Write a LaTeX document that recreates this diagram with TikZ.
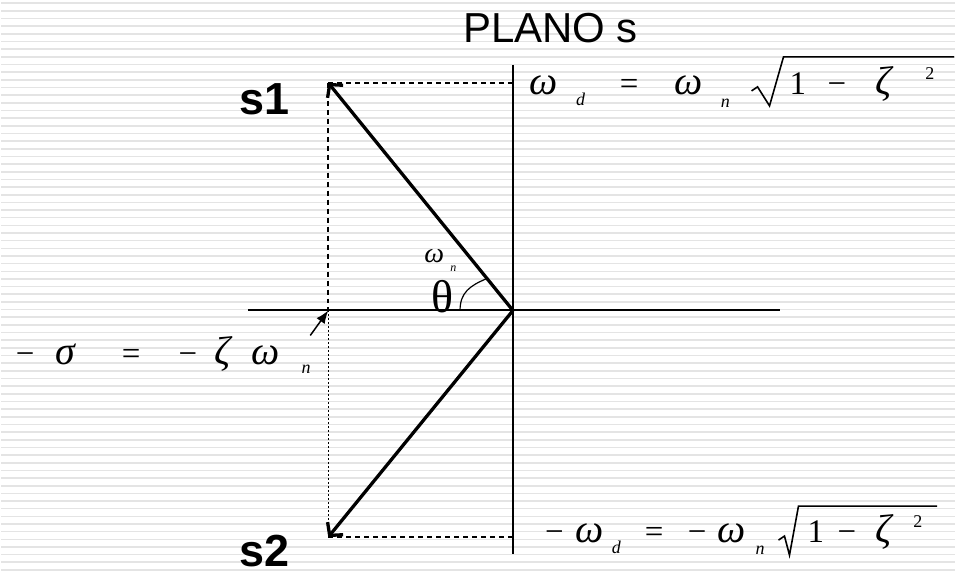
\documentclass[tikz,border=0pt]{standalone}
\usepackage{fontspec}
\setmainfont{Liberation Serif}
\newfontfamily\arialf{Liberation Sans}
\usetikzlibrary{arrows.meta}
\definecolor{stripec}{RGB}{228,228,228}
\begin{document}
\begin{tikzpicture}[x=1pt,y=-1pt,
  it/.style={inner sep=0pt, anchor=base west, font=\fontsize{40}{46}\selectfont\itshape},
  up/.style={inner sep=0pt, anchor=base west, font=\fontsize{33}{38}\selectfont},
  sub/.style={inner sep=0pt, anchor=base west, font=\fontsize{18}{20}\selectfont\itshape},
  sup/.style={inner sep=0pt, anchor=base west, font=\fontsize{18}{20}\selectfont},
  lbl/.style={inner sep=0pt, anchor=base west, font=\fontsize{45}{50}\selectfont\arialf\bfseries},
  axisline/.style={line width=1.5pt},
  dashA/.style={line width=1.8pt, dash pattern=on 5pt off 4pt},
  dotA/.style={line width=1pt, dash pattern=on 2pt off 2pt},
  vec/.style={line width=3.3pt, -{Straight Barb[length=9pt,width=20pt]}},
  rad/.style={line width=1.6pt, line join=miter}
]
\fill[white] (0,0) rectangle (956,573);
\foreach \i in {0,...,74} \draw[stripec, line width=1.6pt] (0,3.3+7.67*\i) -- (956,3.3+7.67*\i);
\useasboundingbox (0,0) rectangle (956,573);

\coordinate (O) at (513,311);
\coordinate (S1) at (328,83);
\coordinate (S2) at (328,538);
\coordinate (Vtop) at (513,65);
\coordinate (Vbot) at (513,555);
\coordinate (Hl) at (248,311);
\coordinate (Hr) at (780,311);
\coordinate (Sig) at (328,311);
\coordinate (P1) at (513,83);
\coordinate (P2) at (513,538);
\coordinate (Atail) at (310,336);
\coordinate (ArcA) at (460,311);
\coordinate (ArcB) at (487,279);

\draw[axisline] (Vtop) -- (Vbot);
\draw[line width=2pt] (Hl) -- (Hr);
\draw[dashA] (S1) -- (P1);
\draw[dashA] (S1) -- (Sig);
\draw[dotA] (Sig) -- (S2);
\draw[dashA, line width=2.2pt] (S2) -- (P2);
\draw[vec] (O) -- (S1);
\draw[vec] (O) -- (S2);
\draw[line width=1.5pt, -{Latex[length=13pt,width=10pt]}] (Atail) -- (Sig);
\draw[line width=1.2pt] (ArcA) .. controls (460,293) and (470,286) .. (ArcB);

% labels
\node[inner sep=0pt, anchor=base west, font=\fontsize{42}{48}\selectfont\arialf] (plano) at (463,43) {PLANO s};
\node[lbl] (s1) at (239,115) {s1};
\node[lbl] (s2) at (239,567) {s2};
\node[inner sep=0pt, anchor=base west, font=\fontsize{46}{52}\selectfont] (theta) at (431,313) {θ};
\node[inner sep=0pt, anchor=base west, font=\fontsize{28}{32}\selectfont\itshape] (wnw) at (424,263) {ω};
\node[inner sep=0pt, anchor=base west, font=\fontsize{12}{14}\selectfont\itshape] (wnn) at (450,272) {n};

% top formula
\node[it] (t1) at (529,95) {ω};
\node[sub] (t2) at (576,106) {d};
\node[up] (t3) at (620,95) {=};
\node[it] (t4) at (675,95) {ω};
\node[sub] (t5) at (721,108) {n};
\draw[rad] (752,91) -- (758,87) -- (770,106) -- (784,57) -- (955,57);
\node[up] (t6) at (790,95) {1};
\node[up] (t7) at (828,95) {−};
\node[it] (t8) at (876,95) {ζ};
\node[sup] (t9) at (926,80) {2};

% bottom formula
\node[up] (b0) at (545,543) {−};
\node[it] (b1) at (575,543) {ω};
\node[sub] (b2) at (612,554) {d};
\node[up] (b3) at (645,543) {=};
\node[up] (b4) at (688,543) {−};
\node[it] (b5) at (718,543) {ω};
\node[sub] (b6) at (756,555) {n};
\draw[rad] (779,541) -- (785,537) -- (790,556) -- (799,507) -- (938,507);
\node[up] (b7) at (808,543) {1};
\node[up] (b8) at (838,543) {−};
\node[it] (b9) at (876,543) {ζ};
\node[sup] (b10) at (914,528) {2};

% left formula
\node[up] (l0) at (15,365) {−};
\node[it] (l1) at (55,365) {σ};
\node[up] (l2) at (121,365) {=};
\node[up] (l3) at (178,365) {−};
\node[it] (l4) at (214,365) {ζ};
\node[it] (l5) at (251,365) {ω};
\node[sub] (l6) at (301,374) {n};
\end{tikzpicture}
\end{document}
